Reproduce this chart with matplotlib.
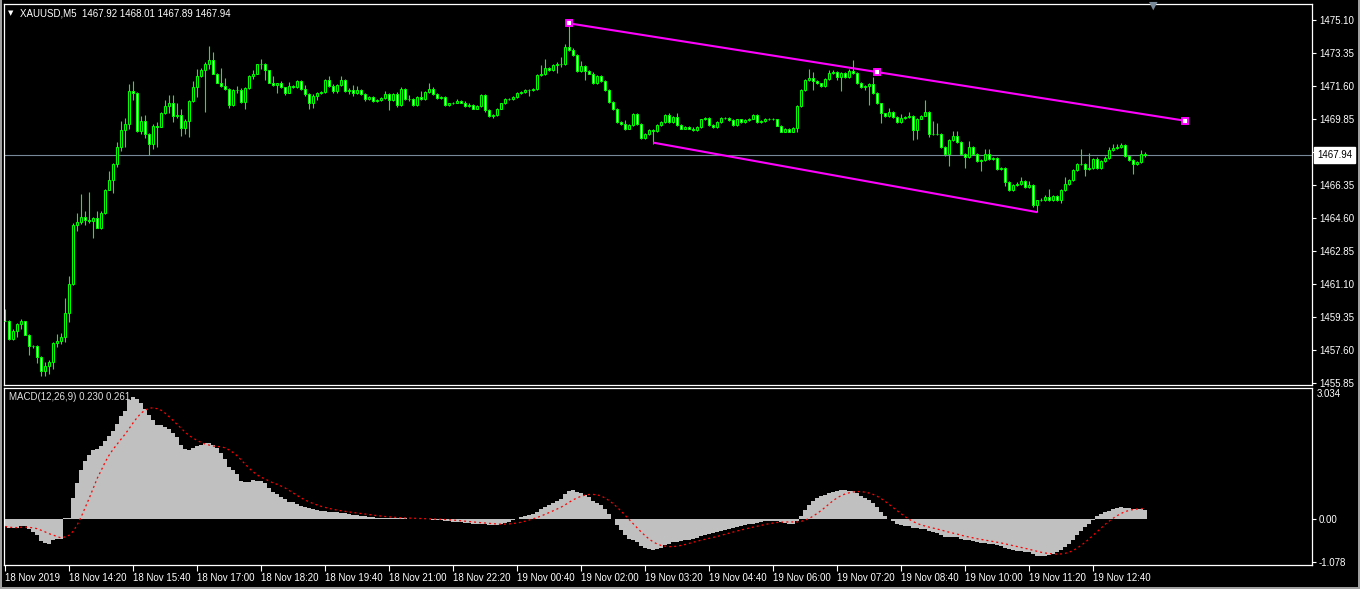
import numpy as np
import matplotlib
matplotlib.use("Agg")
import matplotlib.pyplot as plt
from matplotlib.patches import Rectangle

# ---- chart data ----
symbol_title = "XAUUSD,M5  1467.92 1468.01 1467.89 1467.94"
macd_title = "MACD(12,26,9) 0.230 0.261"

first_open = 1459.14
closes = [
    1459.14, 1458.17, 1458.61, 1458.96, 1459.14, 1458.40, 1457.78, 1457.81, 1457.19, 1456.48,
    1456.75, 1456.96, 1457.95, 1458.08, 1458.29, 1459.55, 1461.09, 1464.20, 1464.36, 1464.64,
    1464.51, 1464.41, 1464.59, 1464.07, 1464.87, 1466.09, 1466.62, 1467.48, 1468.36, 1469.25,
    1469.57, 1471.32, 1471.23, 1469.21, 1469.73, 1469.07, 1468.50, 1469.46, 1469.43, 1470.14,
    1470.53, 1470.67, 1470.01, 1470.05, 1469.39, 1469.73, 1470.79, 1471.52, 1472.12, 1472.44,
    1472.76, 1472.97, 1472.26, 1471.78, 1471.61, 1471.43, 1470.61, 1471.38, 1471.40, 1470.76,
    1471.47, 1472.12, 1472.26, 1472.74, 1472.79, 1472.44, 1471.78, 1471.64, 1471.73, 1471.52,
    1471.25, 1471.61, 1471.55, 1471.84, 1471.43, 1471.15, 1470.67, 1471.06, 1471.20, 1471.29,
    1471.91, 1471.59, 1471.34, 1471.64, 1471.91, 1471.32, 1471.38, 1471.24, 1471.41, 1471.15,
    1470.90, 1471.02, 1470.79, 1470.85, 1470.97, 1471.16, 1470.84, 1471.15, 1470.58, 1471.43,
    1470.93, 1470.93, 1470.58, 1471.02, 1470.93, 1471.29, 1471.43, 1471.17, 1470.97, 1471.00,
    1470.61, 1470.67, 1470.72, 1470.79, 1470.72, 1470.54, 1470.61, 1470.40, 1470.54, 1471.11,
    1470.31, 1470.01, 1470.05, 1470.40, 1470.67, 1470.93, 1470.90, 1471.02, 1471.23, 1471.29,
    1471.38, 1471.36, 1471.43, 1472.17, 1472.23, 1472.53, 1472.44, 1472.71, 1472.76, 1472.74,
    1473.65, 1473.50, 1473.24, 1472.40, 1472.65, 1472.39, 1472.26, 1471.77, 1472.12, 1471.87,
    1471.38, 1470.76, 1470.37, 1469.69, 1469.60, 1469.34, 1469.55, 1470.10, 1469.60, 1468.84,
    1469.07, 1469.28, 1469.19, 1469.55, 1469.69, 1470.08, 1469.66, 1469.96, 1469.51, 1469.34,
    1469.43, 1469.34, 1469.25, 1469.43, 1469.82, 1469.92, 1469.55, 1469.43, 1469.69, 1469.91,
    1469.90, 1469.78, 1469.51, 1469.82, 1469.69, 1469.78, 1469.87, 1470.08, 1469.66, 1469.76,
    1469.85, 1469.87, 1469.82, 1469.50, 1469.18, 1469.32, 1469.18, 1469.35, 1470.52, 1471.38,
    1471.91, 1472.01, 1471.87, 1471.73, 1471.59, 1471.96, 1472.30, 1472.35, 1472.09, 1472.30,
    1472.05, 1472.39, 1472.30, 1471.77, 1471.55, 1471.59, 1471.70, 1471.23, 1470.67, 1470.14,
    1469.99, 1470.20, 1469.96, 1469.69, 1469.92, 1469.96, 1470.03, 1469.25, 1469.87, 1470.03,
    1470.24, 1469.07, 1469.04, 1469.07, 1468.36, 1467.97, 1468.72, 1468.96, 1468.61, 1468.00,
    1467.83, 1468.36, 1468.00, 1467.62, 1467.65, 1468.00, 1467.72, 1467.79, 1467.21, 1467.24,
    1466.50, 1466.06, 1466.32, 1466.38, 1466.54, 1466.23, 1466.34, 1465.26, 1465.52, 1465.52,
    1465.70, 1465.56, 1465.74, 1465.56, 1466.06, 1466.41, 1466.62, 1467.12, 1467.48, 1467.45,
    1467.19, 1467.26, 1467.74, 1467.26, 1467.62, 1467.79, 1468.19, 1468.29, 1468.36, 1468.45,
    1467.87, 1467.65, 1467.48, 1467.56, 1467.97, 1467.94,
]
upper_wick = [
    .60, .05, .10, .05, .10, .00, .05, .05, .05, .10,
    .20, .10, .05, .35, .20, .80, .40, .10, .50, 1.20,
    .30, 1.45, .05, .35, .10, .05, .45, .05, .25, .50,
    .35, .40, .55, .05, .30, .35, .05, .10, .20, .10,
    .35, .45, .45, .65, .30, .10, .05, .35, .40, .10,
    .10, .75, .45, .05, .75, .40, .05, .05, .20, .10,
    .05, .05, .20, .05, .25, .05, .00, .35, .05, .15,
    .05, .20, .05, .10, .05, .20, .05, .10, .10, .05,
    .05, .20, .10, .05, .20, .05, .10, .25, .20, .05,
    .05, .05, .05, .05, .05, .15, .05, .10, .15, .10,
    .05, .20, .05, .05, .30, .05, .30, .10, .05, .05,
    .05, .05, .05, .10, .05, .10, .10, .05, .05, .05,
    .05, .05, .05, .05, .05, .05, .05, .05, .05, .05,
    .05, .05, .05, .05, .50, .50, .05, .05, .10, .35,
    .20, 1.27, .10, .05, .25, .05, .05, .10, .05, .05,
    .05, .05, .05, .05, .05, .20, .05, .05, .05, .05,
    .05, .05, .05, .05, .05, .05, .10, .05, .20, .05,
    .05, .05, .10, .05, .05, .05, .05, .05, .05, .05,
    .05, .05, .05, .05, .05, .05, .05, .05, .05, .05,
    .05, .05, .05, .05, .05, .05, .05, .05, .05, .05,
    .05, .50, .35, .05, .05, .05, .15, .10, .05, .05,
    .05, .10, .60, .05, .05, .05, .05, .35, .05, .05,
    .05, .25, .05, .05, .20, .05, .20, .05, .05, .05,
    .60, .05, .65, .55, .05, .05, .05, .25, .25, .05,
    .05, .30, .05, .05, .05, .25, .25, .05, .05, .05,
    .05, .05, .05, .10, .25, .05, .20, .05, .05, .15,
    .10, .45, .05, .05, .05, .35, .05, .05, .05, .75,
    .05, .80, .05, .10, .05, .10, .15, .25, .15, .10,
    .05, .05, .05, .05, .25, .10,
]
lower_wick = [
    .00, .05, .05, .35, .25, .00, .45, .10, .30, .25,
    .25, .45, .40, .20, .20, .30, .50, .05, .30, .10,
    .30, .10, .90, .00, .05, .05, .00, .70, .20, .20,
    .90, .25, .40, .05, .15, .25, .55, .25, 1.05, .00,
    .05, .35, .30, .10, .45, .35, .85, .05, .50, .05,
    2.20, .25, .05, .05, .05, .05, .20, .05, .15, .05,
    .40, .05, .15, .05, .25, .50, .05, .05, .40, .05,
    .15, .05, .05, .05, .05, .10, .30, .25, .20, .05,
    .05, .05, .10, .10, .05, .05, .15, .20, .05, .05,
    .10, .05, .05, .05, .05, .05, .50, .05, .10, .05,
    .05, .15, .05, .05, .10, .05, .05, .05, .05, .05,
    .05, .05, .05, .05, .05, .05, .05, .05, .05, .05,
    .10, .05, .10, .05, .05, .05, .05, .05, .05, .05,
    .05, .30, .05, .05, .05, .05, .05, .05, .40, .15,
    .05, .05, .05, .05, .05, .45, .05, .05, .05, .05,
    .05, .05, .05, .05, .05, .10, .05, .05, .05, .05,
    .05, .05, .65, .05, .05, .05, .05, .05, .05, .05,
    .05, .05, .05, .05, .05, .05, .05, .05, .05, .05,
    .05, .05, .05, .05, .05, .05, .05, .05, .05, .05,
    .05, .05, .05, .05, .05, .05, .05, .05, .20, .05,
    .05, .05, .50, .05, .05, .05, .05, .05, .20, .75,
    .05, .05, .05, .05, .05, .15, 1.00, .05, .05, .50,
    .05, .05, .05, .05, .05, .05, .05, .50, .45, .05,
    .05, .20, .05, .05, .05, .10, .60, .05, .05, .05,
    .60, .05, .05, .05, .55, .05, .05, .05, .05, .05,
    .20, .05, .05, .05, .05, .05, .05, .10, .36, .05,
    .05, .05, .05, .05, .15, .05, .05, .05, .05, .05,
    .35, .05, .05, .05, .05, .05, .05, .05, .05, .05,
    .05, .05, .55, .05, .05, .10,
]
macd_hist = [
    -.19, -.23, -.23, -.23, -.17, -.19, -.26, -.32, -.40, -.55,
    -.61, -.63, -.53, -.51, -.50, .02, .03, .52, .89, 1.21,
    1.43, 1.58, 1.71, 1.73, 1.81, 1.93, 2.06, 2.20, 2.37, 2.56,
    2.68, 2.96, 3.034, 2.99, 2.89, 2.74, 2.60, 2.46, 2.35, 2.33,
    2.29, 2.24, 2.13, 2.04, 1.85, 1.73, 1.71, 1.77, 1.81, 1.85,
    1.89, 1.89, 1.83, 1.77, 1.63, 1.48, 1.29, 1.21, 1.12, .95,
    .93, .93, .98, .95, .95, .89, .78, .68, .63, .54,
    .50, .43, .41, .37, .33, .30, .28, .25, .22, .20,
    .19, .18, .17, .16, .15, .14, .12, .10, .09, .08,
    .06, .05, .04, .03, .03, .03, .02, .02, .01, .01,
    .01, .00, .00, .00, .00, .00, -.01, -.02, -.03, -.04,
    -.05, -.06, -.07, -.08, -.09, -.10, -.11, -.12, -.13, -.12,
    -.13, -.15, -.16, -.15, -.13, -.10, -.07, -.04, .00, .04,
    .08, .10, .12, .18, .24, .30, .35, .40, .45, .50,
    .62, .70, .72, .68, .65, .60, .55, .45, .40, .35,
    .25, .12, .00, -.15, -.28, -.40, -.50, -.52, -.58, -.68,
    -.72, -.75, -.77, -.75, -.72, -.65, -.62, -.58, -.57, -.55,
    -.54, -.52, -.50, -.48, -.44, -.40, -.38, -.36, -.33, -.30,
    -.27, -.25, -.23, -.20, -.18, -.16, -.14, -.12, -.10, -.08,
    -.06, -.05, -.05, -.06, -.09, -.10, -.12, -.12, -.05, .08,
    .22, .35, .45, .52, .56, .60, .65, .68, .70, .72,
    .72, .70, .70, .65, .58, .52, .48, .40, .30, .18,
    .08, .00, -.06, -.12, -.15, -.17, -.18, -.22, -.24, -.25,
    -.25, -.30, -.33, -.35, -.40, -.45, -.45, -.45, -.46, -.50,
    -.52, -.52, -.55, -.58, -.60, -.60, -.62, -.62, -.66, -.68,
    -.72, -.76, -.78, -.80, -.80, -.82, -.84, -.88, -.92, -.92,
    -.92, -.90, -.88, -.84, -.78, -.70, -.62, -.52, -.40, -.30,
    -.20, -.12, -.02, .06, .12, .16, .20, .24, .28, .30,
    .28, .26, .25, .24, .24, .23,
]

bid_price = 1467.94
price_ticks = [1475.10, 1473.35, 1471.60, 1469.85, 1468.10, 1466.35,
               1464.60, 1462.85, 1461.10, 1459.35, 1457.60, 1455.85]
macd_ticks = [0.00, -1.078]
macd_tick_labels = ["0.00", "-1.078"]
macd_top_label = "3.034"

time_tick_bars = list(range(0, 273, 16))
time_labels = ["18 Nov 2019", "18 Nov 14:20", "18 Nov 15:40", "18 Nov 17:00",
               "18 Nov 18:20", "18 Nov 19:40", "18 Nov 21:00", "18 Nov 22:20",
               "19 Nov 00:40", "19 Nov 02:00", "19 Nov 03:20", "19 Nov 04:40",
               "19 Nov 06:00", "19 Nov 07:20", "19 Nov 08:40", "19 Nov 10:00",
               "19 Nov 11:20", "19 Nov 12:40"]

# trend lines drawn on the chart (bar index, price)
upper_line_bars = [141, 295]
upper_line_prices = [1474.92, 1469.75]
lower_line_bars = [162, 258]
lower_line_prices = [1468.59, 1464.90]

# ---- colours ----
LIME = "#00FF00"
MAGENTA = "#FF00FF"
BIDLINE = "#778899"
HIST = "#C0C0C0"

plt.rcParams["font.family"] = ["Liberation Sans", "DejaVu Sans"]
plt.rcParams["font.size"] = 7

W, H = 1360, 589


def frame(x0, y0, x1, y1):
    """pixel box (top-left origin) -> figure fraction rect"""
    return [x0 / W, 1 - y1 / H, (x1 - x0) / W, (y1 - y0) / H]


fig = plt.figure(figsize=(W / 100, H / 100), dpi=100, facecolor="black")
ax_p = fig.add_axes(frame(4, 4, 1312, 385))
ax_m = fig.add_axes(frame(4, 388, 1312, 565), sharex=ax_p)

for ax in (ax_p, ax_m):
    ax.set_facecolor("black")
    for sp in ax.spines.values():
        sp.set_color("white")
        sp.set_linewidth(0.9)

closes = np.array(closes)
opens = np.r_[first_open, closes[:-1]]
highs = np.maximum(opens, closes) + np.array(upper_wick)
lows = np.minimum(opens, closes) - np.array(lower_wick)
x = np.arange(len(closes))

# candles: lime wicks/outline, black body for bull, white body for bear
ax_p.vlines(x, lows, highs, color=LIME, lw=0.8, zorder=2)
body_fill = np.where(closes >= opens, "black", "white")
ax_p.bar(x, closes - opens, bottom=opens, width=0.5, color=body_fill,
         edgecolor=LIME, linewidth=0.75, zorder=3)

ax_p.axhline(bid_price, color=BIDLINE, lw=0.8, zorder=1)

# trend lines
ax_p.plot(upper_line_bars, upper_line_prices, color=MAGENTA, lw=1.5, zorder=4,
          solid_capstyle="butt")
ax_p.plot(lower_line_bars, lower_line_prices, color=MAGENTA, lw=1.5, zorder=4,
          solid_capstyle="butt")
handle_x = [upper_line_bars[0], np.mean(upper_line_bars), upper_line_bars[1]]
handle_y = [upper_line_prices[0], np.mean(upper_line_prices), upper_line_prices[1]]
ax_p.plot(handle_x, handle_y, ls="none", marker="s", ms=4.5, mfc="white",
          mec=MAGENTA, mew=1.4, zorder=5)

ax_p.set_xlim(-0.325, 326.675)
ax_p.set_ylim(1455.727, 1475.949)
ax_p.yaxis.tick_right()
ax_p.set_yticks(price_ticks)
ax_p.set_yticklabels([f"{v:.2f}" for v in price_ticks])
ax_p.tick_params(axis="y", colors="white", length=3, width=0.8, pad=2, labelsize=7)
ax_p.tick_params(axis="x", bottom=False, labelbottom=False)

# current price box on the scale
ax_p.text(1.0 + 5 / 1308, bid_price, f"{bid_price:.2f}",
          transform=ax_p.get_yaxis_transform(),
          ha="left", va="center", color="black", fontsize=7, zorder=10, clip_on=False,
          bbox=dict(boxstyle="square,pad=0.32", fc="white", ec="white"))

# ---- MACD pane ----
edges = np.arange(len(macd_hist) + 1) - 0.5
ax_m.stairs(macd_hist, edges, baseline=0, fill=True, color=HIST, lw=0, zorder=2)
signal = np.convolve(macd_hist, np.ones(9) / 9, mode="full")[:len(macd_hist)]
counts = np.minimum(np.arange(1, len(macd_hist) + 1), 9)
signal = signal * 9 / counts
ax_m.plot(x, signal, color="red", lw=0.9, ls=(0, (1.6, 2.4)), zorder=3)

ax_m.set_ylim(-1.152, 3.262)
ax_m.yaxis.tick_right()
ax_m.set_yticks(macd_ticks)
ax_m.set_yticklabels(macd_tick_labels)
ax_m.tick_params(axis="y", colors="white", length=3, width=0.8, pad=2, labelsize=7)
ax_m.text(1.0 + 5 / 1308, 0.966, macd_top_label, transform=ax_m.transAxes,
          ha="left", va="center", color="white", fontsize=7)

ax_m.set_xticks(time_tick_bars)
ax_m.set_xticklabels(time_labels)
ax_m.tick_params(axis="x", colors="white", length=4, width=0.8, pad=1.5, labelsize=7)
for lab in ax_m.get_xticklabels():
    lab.set_ha("left")

# ---- titles / decorations ----
fig.text(8 / W, 1 - 13 / H, "\u25BC", color="white", fontsize=5, va="center",
         family="DejaVu Sans")
fig.text(20 / W, 1 - 13 / H, symbol_title, color="white", fontsize=7, va="center")
fig.text(9 / W, 1 - 397 / H, macd_title, color="#E0E0E0", fontsize=7, va="center")
fig.text(1153 / W, 1 - 6 / H, "\u25BC", color=BIDLINE, fontsize=8, va="center",
         ha="center", family="DejaVu Sans")

# window border strips
fig.add_artist(Rectangle((0, 0), 2 / W, 1, transform=fig.transFigure,
                         color="#A0A0A0", lw=0))
fig.add_artist(Rectangle((0, 0), 1, 2 / H, transform=fig.transFigure,
                         color="#A0A0A0", lw=0))
fig.add_artist(Rectangle((1 - 2 / W, 0), 2 / W, 1, transform=fig.transFigure,
                         color="#A0A0A0", lw=0))

fig.savefig("out.png", dpi=100, facecolor="black")
